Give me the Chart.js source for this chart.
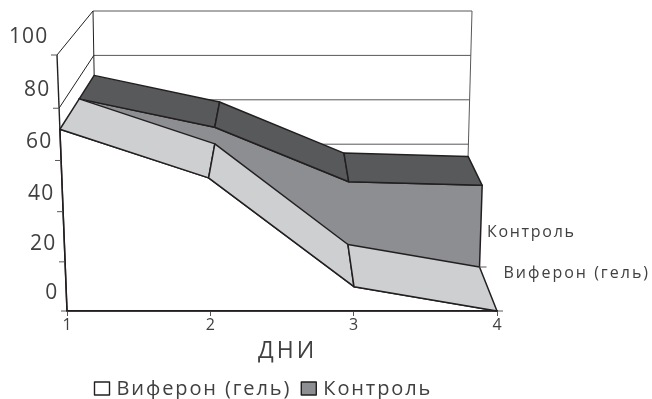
<!DOCTYPE html>
<html>
<head>
<meta charset="utf-8">
<style>html,body{margin:0;padding:0;background:#fff}canvas{display:block}</style>
<script src="https://cdn.jsdelivr.net/npm/chart.js@4/dist/chart.umd.min.js"></script>
</head>
<body>
<canvas id="c" width="652" height="399"></canvas>
<script>
const days = ['1', '2', '3', '4'];
const viferon = [71, 52, 9.5, 0];
const kontrol = [71, 59, 36, 34.5];
const seriesNames = ['Виферон (гель)', 'Контроль'];
const axisTitle = 'ДНИ';

const INK = '#231f20', TEXT = '#404042', WALL = '#58585a';
const TOP_LIGHT = '#cdcfd1', FACE_MID = '#8c8e91', TOP_DARK = '#58595b';
const FONT = '"Open Sans"';

// Depth fractions of the 3D box: front plane, boundary between rows, back wall.
const DEPTH_FRONT = 0, DEPTH_MID = 0.564, DEPTH_BACK = 1;

function lerp(a, b, t) { return a + (b - a) * t; }

// Projects (category index, value, depth) to the screen using the chart's own scales.
function projector(chart) {
  const xs = chart.scales.x, ys = chart.scales.y;
  const a = chart.chartArea;
  return function (i, v, depth) {
    const u = (xs.getPixelForValue(i) - a.left) / (a.right - a.left);
    const h = (a.bottom - ys.getPixelForValue(v)) / (a.bottom - a.top);
    const fy = ys.getPixelForValue(v);
    const fx = lerp(a.left - 10 * h, a.right + 10 * h, u);
    const by = a.bottom - 78 - 222 * h;
    const bx = lerp(a.left + 30 - 4 * h, a.right - 31 + 6 * h, u);
    return [lerp(fx, bx, depth), lerp(fy, by, depth)];
  };
}

function seg(ctx, p, q, color, w) {
  ctx.strokeStyle = color; ctx.lineWidth = w;
  ctx.beginPath(); ctx.moveTo(p[0], p[1]); ctx.lineTo(q[0], q[1]); ctx.stroke();
}
function poly(ctx, pts, fill) {
  ctx.beginPath();
  pts.forEach((p, k) => k ? ctx.lineTo(p[0], p[1]) : ctx.moveTo(p[0], p[1]));
  ctx.closePath();
  ctx.fillStyle = fill; ctx.fill();
  ctx.strokeStyle = INK; ctx.lineWidth = 1.5; ctx.lineJoin = 'round'; ctx.stroke();
}

// One area row: a vertical front face plus a sloped top ribbon, segment by segment.
function drawRow(ctx, P, values, d0, d1, faceColor, topColor) {
  const n = values.length;
  const face = values.map((v, i) => P(i, v, d0));
  face.push(P(n - 1, 0, d0), P(0, 0, d0));
  poly(ctx, face, faceColor);
  for (let i = 0; i < n - 1; i++) {
    poly(ctx, [P(i, values[i], d0), P(i + 1, values[i + 1], d0),
               P(i + 1, values[i + 1], d1), P(i, values[i], d1)], topColor);
  }
}

function text(ctx, str, x, y, size, spacing) {
  ctx.font = size + 'px ' + FONT;
  ctx.letterSpacing = spacing + 'px';
  ctx.fillText(str, x, y);
}

const box3d = {
  id: 'box3d',
  beforeDatasetsDraw(chart) {
    const ctx = chart.ctx, P = projector(chart), ys = chart.scales.y;
    const last = days.length - 1;
    // Front-edge tick position: the tilted axis bows slightly between its ends.
    const tickPoint = v => {
      const p = P(0, v, DEPTH_FRONT), h = v / 100;
      return [p[0], p[1] + 12.8 * h * (1 - h)];
    };
    ctx.save();
    // Wall grid lines on the back and left walls.
    ys.ticks.forEach(t => {
      seg(ctx, P(0, t.value, DEPTH_BACK), P(last, t.value, DEPTH_BACK), WALL, 1);
      seg(ctx, tickPoint(t.value), P(0, t.value, DEPTH_BACK), INK, 1);
    });
    seg(ctx, P(0, 0, DEPTH_BACK), P(0, 100, DEPTH_BACK), INK, 1);
    seg(ctx, P(last, 0, DEPTH_BACK), P(last, 100, DEPTH_BACK), WALL, 1);

    // Rear row first, front row over it.
    const sets = chart.data.datasets;
    drawRow(ctx, P, sets[1].data, DEPTH_MID, DEPTH_BACK, sets[1].backgroundColor, TOP_DARK);
    drawRow(ctx, P, sets[0].data, DEPTH_FRONT, DEPTH_MID, sets[0].backgroundColor, TOP_LIGHT);

    // Value axis along the tilted front edge, with ticks and labels.
    seg(ctx, P(0, 0, DEPTH_FRONT), P(0, 100, DEPTH_FRONT), INK, 1.4);
    ctx.fillStyle = TEXT;
    ctx.textAlign = 'right';
    ctx.textBaseline = 'alphabetic';
    ys.ticks.forEach(t => {
      const p = tickPoint(t.value);
      seg(ctx, [p[0] - 6, p[1]], p, WALL, 1);
      text(ctx, t.label, p[0] - 8.5, p[1] - 12, 21, 1.2);
    });

    // Depth axis: ticks at the row boundaries and the series names.
    const fr = P(last, 0, DEPTH_FRONT), mid = P(last, 0, DEPTH_MID);
    seg(ctx, fr, [fr[0] + 6, fr[1]], WALL, 1);
    seg(ctx, mid, [mid[0] + 7, mid[1]], WALL, 1);
    ctx.textAlign = 'left';
    text(ctx, sets[1].label, mid[0] + 7.5, mid[1] - 30, 16, 1.7);
    text(ctx, sets[0].label, mid[0] + 24, mid[1] + 11, 16, 2);

    // Axis title below the category labels.
    text(ctx, axisTitle, 258, 358, 23, 3);

    // Legend row.
    let x = 94.5;
    const top = 382, baseline = 395;
    sets.forEach(ds => {
      ctx.fillStyle = ds.backgroundColor;
      ctx.strokeStyle = ds.borderColor;
      ctx.lineWidth = ds.borderWidth;
      ctx.fillRect(x, top, 15, 13);
      ctx.strokeRect(x, top, 15, 13);
      ctx.fillStyle = TEXT;
      text(ctx, ds.label, x + 22, baseline, 20, 1.9);
      x += 22 + ctx.measureText(ds.label).width + 10;
    });
    ctx.restore();
  }
};

new Chart(document.getElementById('c'), {
  type: 'line',
  data: {
    labels: days,
    datasets: [
      { label: seriesNames[0], data: viferon, showLine: false, pointRadius: 0,
        backgroundColor: '#ffffff', borderColor: INK, borderWidth: 1.4 },
      { label: seriesNames[1], data: kontrol, showLine: false, pointRadius: 0,
        backgroundColor: FACE_MID, borderColor: INK, borderWidth: 1.4 }
    ]
  },
  plugins: [box3d],
  options: {
    responsive: false,
    animation: false,
    layout: { padding: { left: 67, right: 155, top: 55, bottom: 0 } },
    plugins: {
      tooltip: { enabled: false },
      legend: { display: false }
    },
    scales: {
      x: {
        type: 'category',
        offset: false,
        afterFit(s) { s.height = s.chart.height - 311; },
        border: { color: INK, width: 1.5, z: 1 },
        grid: { drawOnChartArea: false, color: WALL, tickLength: 5, z: 1 },
        ticks: { color: TEXT, padding: 0, maxRotation: 0, font: { family: FONT, size: 16 } }
      },
      y: {
        display: false,
        min: 0, max: 100,
        ticks: { stepSize: 20 }
      }
    }
  }
});
</script>
</body>
</html>
